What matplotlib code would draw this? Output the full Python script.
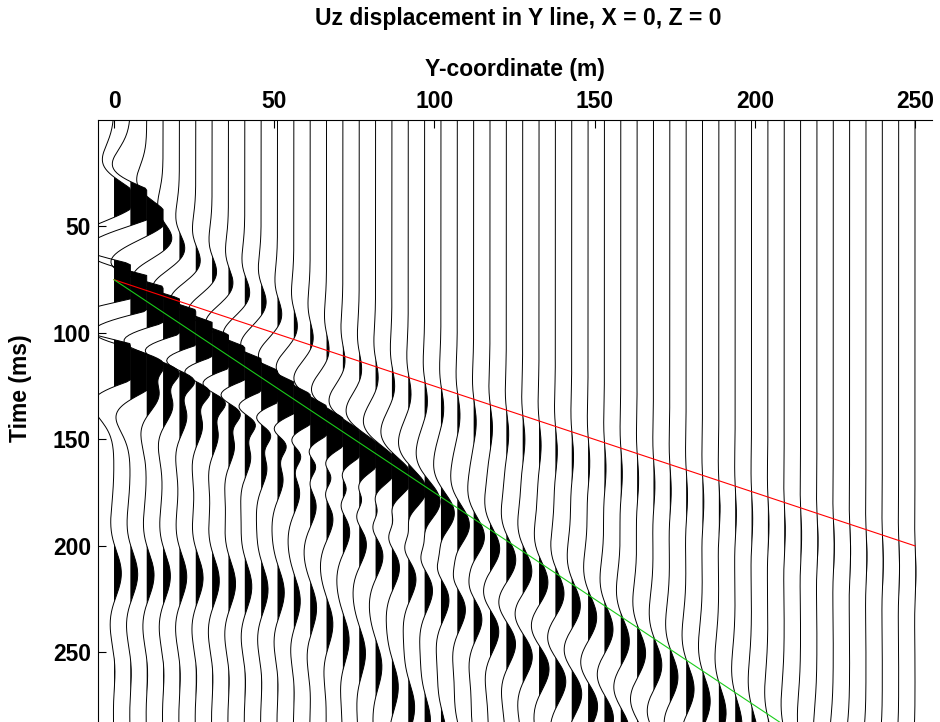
import numpy as np
import matplotlib
matplotlib.use("Agg")
import matplotlib.pyplot as plt

# ---------------- text ----------------
title_text = "Uz displacement in Y line, X = 0, Z = 0"
xlabel_text = "Y-coordinate (m)"
ylabel_text = "Time (ms)"
xtick_values = [0, 50, 100, 150, 200, 250]
ytick_values = [50, 100, 150, 200, 250]

# ---------------- data ----------------
# receiver Y-coordinates (50 traces from 0 to 250 m)
receivers = np.linspace(0, 250, 50)
time_ms = np.arange(0.0, 300.5, 1.0)

# events read from the section: offsets (m), centre times (ms),
# amplitudes (in trace spacings), peak frequency (Hz) or pulse width (ms)
fast_off = [0, 5, 10, 15, 20, 25, 35, 46, 56, 71, 92, 112, 150, 200, 250]
fast_t = [38, 40, 46, 57, 62, 68, 78, 87, 99, 116, 130, 142, 162, 188, 212]
fast_amp = [1.6, 2.5, 1.4, 0.75, 0.5, 0.45, 0.4, 0.38, 0.32, 0.26, 0.2, 0.16, 0.1, 0.07, 0.05]
fast_f = [20, 20, 21, 22, 22, 22, 22, 22, 21, 20, 20, 19, 18, 17, 16]

main_off = [0, 20, 40, 60, 80, 100, 117, 138, 170, 185, 200, 250]
main_t = [76, 97, 119, 140, 161, 183, 202, 224, 259, 276, 292, 345]
main_amp = [4.0, 3.2, 2.6, 2.0, 1.5, 0.9, 0.68, 0.62, 0.58, 0.55, 0.45, 0.3]
main_f = [20, 20, 20, 19, 18, 17, 17, 16, 15, 14, 14, 13]

coda_off = [0, 10, 20, 40, 60, 80, 100, 120]
coda_t = [105, 113, 121, 141, 161, 182, 202, 222]
coda_amp = [1.0, 2.2, 2.2, 1.8, 1.4, 1.0, 0.5, 0.0]
coda_w = [7, 7, 7, 7, 7, 7, 7, 7]

late_off = [0, 5, 10, 20, 30, 41, 51, 61, 76, 97, 112, 138, 160, 200]
late_t = [114, 120, 128, 138, 146, 157, 167, 180, 198, 220, 233, 263, 288, 330]
late_amp = [3.0, 2.0, 0.8, 0.5, 0.45, 0.45, 0.45, 0.45, 0.5, 0.55, 0.6, 0.72, 0.6, 0.4]
late_f = [20, 20, 20, 19, 19, 19, 18, 18, 18, 17, 17, 16, 16, 15]

refl_off = [0, 25, 51, 56, 61, 71, 82, 92, 110, 130]
refl_t = [213, 215, 222, 226, 229, 244, 257, 276, 300, 320]
refl_amp = [0.45, 0.45, 0.42, 0.4, 0.4, 0.4, 0.4, 0.38, 0.3, 0.0]
refl_f = [16, 16, 16, 16, 16, 16, 16, 16, 16, 16]

ring_off = [0, 50, 80, 100]
ring_t = [257, 262, 275, 285]
ring_amp = [0.08, 0.07, 0.03, 0.0]
ring_f = [18, 18, 18, 18]

# reference move-out lines: start / end offsets and times
line_off = [0, 250]
red_t = [75, 200]     # 2000 m/s
green_t = [75, 325]   # 1000 m/s


def ricker(tau, f):
    a = (np.pi * f * tau / 1000.0) ** 2
    return (1 - 2 * a) * np.exp(-a)


def pulse(tau, w):
    return np.exp(-(tau / w) ** 2)


events = [
    (fast_off, fast_t, fast_amp, fast_f, ricker),
    (main_off, main_t, main_amp, main_f, ricker),
    (coda_off, coda_t, coda_amp, coda_w, pulse),
    (late_off, late_t, late_amp, late_f, ricker),
    (refl_off, refl_t, refl_amp, refl_f, ricker),
    (ring_off, ring_t, ring_amp, ring_f, ricker),
]

# ---------------- figure ----------------
fig = plt.figure(figsize=(9.4, 7.22), dpi=100)
ax = fig.add_axes([98 / 940, 0.0, (932 - 98) / 940, (722 - 120) / 722])

spacing = receivers[1] - receivers[0]
clip_pos = 1.0
clip_neg = 4.0

for x in receivers:
    s = np.zeros_like(time_ms)
    for off, tt, aa, pp, shape in events:
        tc = np.interp(x, off, tt)
        am = np.interp(x, off, aa)
        par = np.interp(x, off, pp)
        s += am * shape(time_ms - tc, par)
    s = np.clip(s, -clip_neg, clip_pos)
    w = x + s * spacing
    ax.fill_betweenx(time_ms, x, w, where=(s > 0), interpolate=True,
                     color="black", linewidth=0)
    ax.plot(w, time_ms, color="black", linewidth=0.7)

ax.plot(line_off, red_t, color=(1, 0, 0), linewidth=0.8)
ax.plot(line_off, green_t, color=(0.1, 0.8, 0.1), linewidth=0.8)

ax.set_xlim(-5, 255.3)
ax.set_ylim(282.7, 0)

ax.xaxis.set_ticks_position("top")
ax.xaxis.set_label_position("top")
ax.set_xticks(xtick_values)
ax.set_yticks(ytick_values)
ax.tick_params(axis="both", direction="in", length=6, width=0.8,
               labelsize=16.5, pad=5)
for lab in ax.get_xticklabels() + ax.get_yticklabels():
    lab.set_fontfamily("Liberation Sans")
    lab.set_fontweight("bold")

for side in ["right", "bottom"]:
    ax.spines[side].set_visible(False)
for side in ["left", "top"]:
    ax.spines[side].set_linewidth(0.8)

font = dict(family="Liberation Sans", weight="bold", size=16.5)
ax.set_xlabel(xlabel_text, labelpad=10, **font)
ax.set_ylabel(ylabel_text, **font)
ax.yaxis.set_label_coords(-0.079, 0.555)
fig.text(518 / 940, 1 - 18 / 722, title_text, ha="center", va="center", **font)

fig.savefig("out.png", dpi=100)
